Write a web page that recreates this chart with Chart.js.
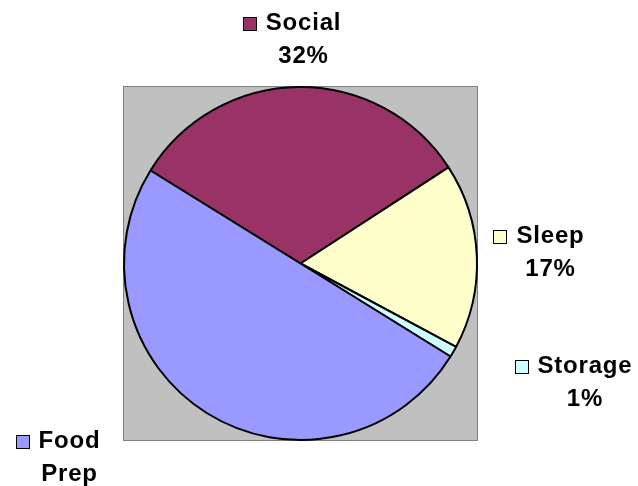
<!DOCTYPE html>
<html>
<head>
<meta charset="utf-8">
<style>
  html, body { margin: 0; padding: 0; background: #ffffff; }
  #chart { display: block; }
</style>
<script src="https://cdn.jsdelivr.net/npm/chart.js@4.4.1/dist/chart.umd.min.js"></script>
</head>
<body>
<canvas id="chart" width="638" height="486"></canvas>
<script>
const categories = ["Social", "Sleep", "Storage", "Food Prep"];
const shares = [32, 17, 1, 50];
const sliceColors = ["#993366", "#FFFFCC", "#CCFFFF", "#9999FF"];

// label lines (name may wrap) and where each label block sits, relative to pie centre
const labelLines = [["Social"], ["Sleep"], ["Storage"], ["Food", "Prep"]];
const labelOffsets = [[3, -240.5], [250, -27.5], [284.5, 102.5], [-231, 178]];

const LABEL_FONT = "bold 24px 'Liberation Sans', Arial, sans-serif";
const LINE_HEIGHT = 33;
const BOX_SIZE = 13;
const BOX_GAP = 10;

const plotBackground = {
  id: "plotBackground",
  beforeDatasetsDraw(chart) {
    const { ctx, chartArea } = chart;
    ctx.save();
    ctx.fillStyle = "#C0C0C0";
    ctx.fillRect(chartArea.left, chartArea.top, chartArea.width, chartArea.height);
    ctx.strokeStyle = "#808080";
    ctx.lineWidth = 1;
    ctx.strokeRect(chartArea.left + 0.5, chartArea.top + 0.5, chartArea.width - 1, chartArea.height - 1);
    ctx.restore();
  }
};

const sliceLabels = {
  id: "sliceLabels",
  afterDatasetsDraw(chart) {
    const { ctx } = chart;
    const meta = chart.getDatasetMeta(0);
    const values = chart.data.datasets[0].data;
    const total = values.reduce((sum, v) => sum + v, 0);

    ctx.save();
    ctx.font = LABEL_FONT;
    ctx.letterSpacing = "0.8px";
    ctx.fillStyle = "#000000";
    ctx.textBaseline = "middle";
    ctx.textAlign = "center";

    meta.data.forEach((arc, index) => {
      const cx = arc.x + labelOffsets[index][0];
      const cy = arc.y + labelOffsets[index][1];
      const lines = [...labelLines[index], `${Math.round((values[index] / total) * 100)}%`];

      lines.forEach((line, lineIndex) => {
        ctx.fillText(line, cx, cy + lineIndex * LINE_HEIGHT);
      });

      // legend key in front of the first line
      const firstWidth = ctx.measureText(lines[0]).width;
      const boxX = Math.round(cx - firstWidth / 2 - BOX_GAP - BOX_SIZE) + 0.5;
      const boxY = Math.round(cy - BOX_SIZE / 2) + 0.5;
      ctx.fillStyle = sliceColors[index];
      ctx.fillRect(boxX, boxY, BOX_SIZE, BOX_SIZE);
      ctx.strokeStyle = "#000000";
      ctx.lineWidth = 1;
      ctx.strokeRect(boxX, boxY, BOX_SIZE, BOX_SIZE);
      ctx.fillStyle = "#000000";
    });

    ctx.restore();
  }
};

new Chart(document.getElementById("chart"), {
  type: "pie",
  data: {
    labels: categories,
    datasets: [
      {
        data: shares,
        backgroundColor: sliceColors,
        borderColor: "#000000",
        borderWidth: 2,
        hoverOffset: 0
      }
    ]
  },
  options: {
    responsive: false,
    animation: false,
    rotation: -58.2,
    layout: {
      padding: { left: 123, right: 160, top: 86, bottom: 45 }
    },
    plugins: {
      legend: { display: false },
      tooltip: { enabled: false }
    }
  },
  plugins: [plotBackground, sliceLabels]
});
</script>
</body>
</html>
